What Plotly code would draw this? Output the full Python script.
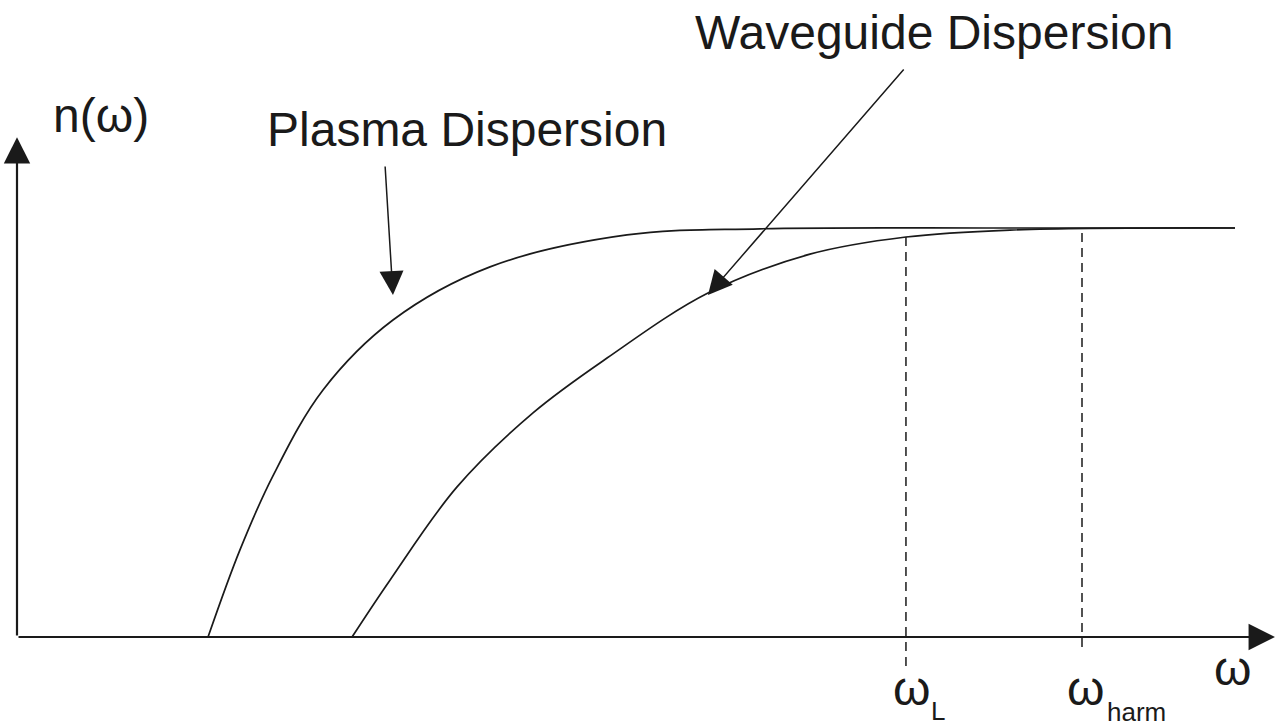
import plotly.graph_objects as go

# Data (frequency omega in arbitrary units, refractive index n normalised to plateau = 1)
plasma_w = [1.592, 1.858, 2.133, 2.550, 3.133, 3.942, 5.083, 6.192, 8.192, 10.150]
plasma_n = [0.0, 0.213, 0.394, 0.604, 0.775, 0.905, 0.983, 0.998, 1.0, 1.0]

wave_w = [2.792, 3.108, 3.667, 4.300, 4.917, 5.758, 6.608, 7.408, 8.275, 10.150]
wave_n = [0.0, 0.139, 0.367, 0.548, 0.682, 0.841, 0.936, 0.978, 0.995, 1.0]

# marker frequencies: omega_L and omega_harm
mark_w = [7.408, 8.875]
mark_top = [0.978, 0.988]
mark_bottom = [-0.076, -0.034]
mark_labels = ["L", "harm"]

# axis extents
x_end = 10.483
y_end = 1.222

# annotation arrows: (tail_w, tail_n, tip_w, tip_n)
plasma_arrow = [3.067, 1.154, 3.133, 0.836]
wave_arrow = [7.40, 1.391, 5.758, 0.836]

FONT = "Liberation Sans, Arial, Helvetica, sans-serif"
INK = "#1a1a1a"

fig = go.Figure()
for xs, ys in ((plasma_w, plasma_n), (wave_w, wave_n)):
    fig.add_trace(go.Scatter(x=xs, y=ys, mode="lines",
                             line=dict(color=INK, width=1.7, shape="spline", smoothing=1.0),
                             hoverinfo="skip", showlegend=False))
for w, t, b in zip(mark_w, mark_top, mark_bottom):
    fig.add_trace(go.Scatter(x=[w, w], y=[t, b], mode="lines",
                             line=dict(color=INK, width=1.5, dash="9px,6px"),
                             hoverinfo="skip", showlegend=False))

anns = []
# axes with arrowheads
anns.append(dict(x=0, y=y_end, ax=0, ay=0, xref="x", yref="y", axref="x", ayref="y",
                 text="", showarrow=True, arrowhead=2, arrowsize=2.4, arrowwidth=2.2,
                 arrowcolor=INK))
anns.append(dict(x=x_end, y=0, ax=0, ay=0, xref="x", yref="y", axref="x", ayref="y",
                 text="", showarrow=True, arrowhead=2, arrowsize=2.4, arrowwidth=2.2,
                 arrowcolor=INK))
# pointer arrows
for a in (plasma_arrow, wave_arrow):
    anns.append(dict(x=a[2], y=a[3], ax=a[0], ay=a[1], xref="x", yref="y", axref="x", ayref="y",
                     text="", showarrow=True, arrowhead=2, arrowsize=3.2, arrowwidth=1.5,
                     arrowcolor=INK))


def label(x, y, txt, size=48, xanchor="center"):
    return dict(x=x, y=y, xref="x", yref="y", text=txt, showarrow=False,
                xanchor=xanchor, yanchor="middle",
                font=dict(family=FONT, size=size, color=INK))


anns.append(label(0.70, 1.274, "n(ω)"))
anns.append(label(3.746, 1.240, "Plasma Dispersion"))
anns.append(label(7.638, 1.477, "Waveguide Dispersion"))
anns.append(label(10.125, -0.076, "ω"))
# omega_L and omega_harm labels with small subscripts
anns.append(label(7.45, -0.127, "ω"))
anns.append(label(7.679, -0.180, mark_labels[0], size=26))
anns.append(label(8.90, -0.127, "ω"))
anns.append(label(9.333, -0.183, mark_labels[1], size=26))

fig.update_layout(
    width=1275, height=726,
    margin=dict(l=0, r=0, t=0, b=0),
    paper_bgcolor="white", plot_bgcolor="white",
    xaxis=dict(range=[-17 / 120, 1258 / 120], visible=False, fixedrange=True),
    yaxis=dict(range=[-89 / 409, 637 / 409], visible=False, fixedrange=True),
    annotations=anns,
    showlegend=False,
)

fig.write_html(
    "out.html",
    config={"displayModeBar": False},
    post_script="document.body.style.margin='0';document.body.style.padding='0';"
                "document.body.style.overflow='hidden';",
)
